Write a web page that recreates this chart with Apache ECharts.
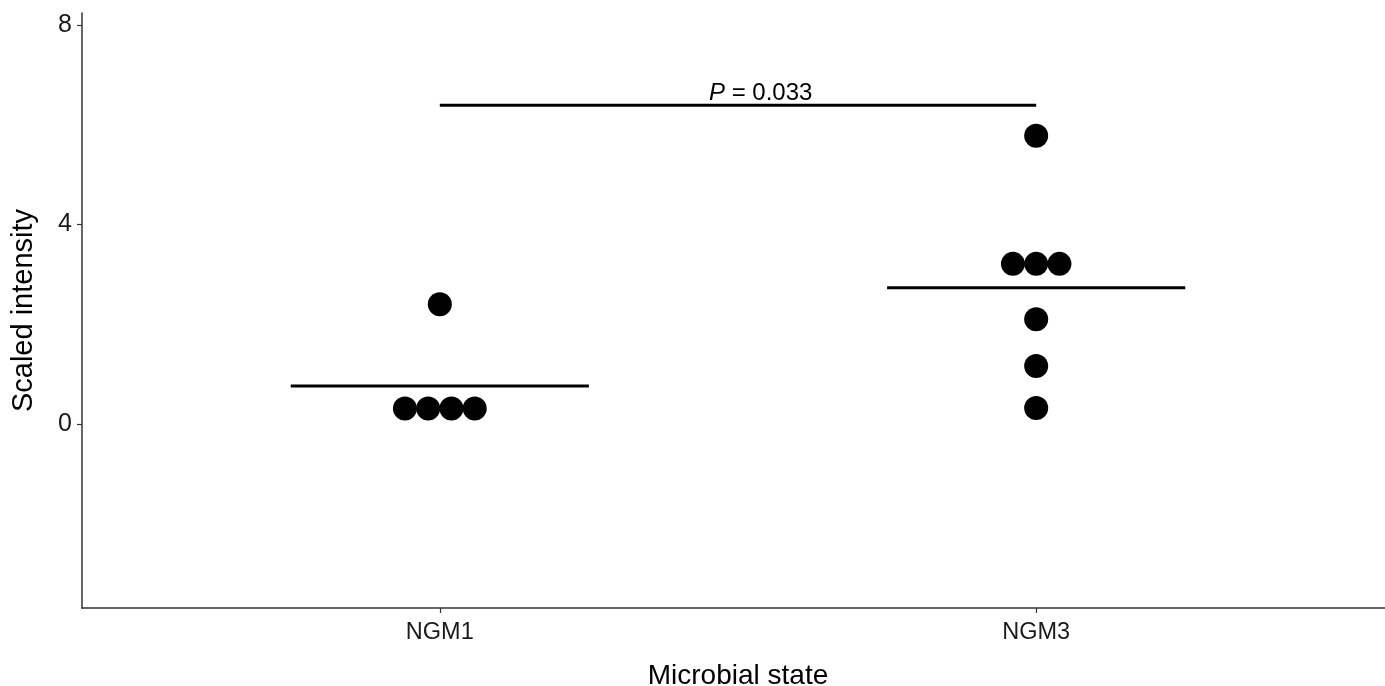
<!DOCTYPE html>
<html>
<head>
<meta charset="utf-8">
<script src="https://cdn.jsdelivr.net/npm/echarts@6/dist/echarts.min.js"></script>
<style>
html,body{margin:0;padding:0;background:#fff;}
#chart{width:1385px;height:686px;}
</style>
</head>
<body>
<div id="chart"></div>
<script>
// ---- data ----
const categories = ['NGM1', 'NGM3'];
const ngm1Values = [0.31, 0.31, 0.31, 0.31, 2.40];
const ngm3Values = [0.32, 1.16, 2.10, 3.21, 3.21, 3.21, 5.78];
const groupMeans = [0.76, 2.73];
const yTicks = [0, 4, 8];
const pLabel = '0.033';
const pBracketY = 6.39;

// ---- layout helpers ----
const dotStep = 0.039;     // horizontal stacking step (data units) for tied values
const meanHalfWidth = 0.25;
const groups = [ngm1Values, ngm3Values];
const FONT = 'Liberation Sans, Arial, sans-serif';

function stackDots(values, center) {
  const counts = {};
  values.forEach(v => { counts[v] = (counts[v] || 0) + 1; });
  const seen = {};
  return values.map(v => {
    const n = counts[v];
    const k = seen[v] || 0;
    seen[v] = k + 1;
    return [center + (k - (n - 1) / 2) * dotStep, v];
  });
}

const series = [];
groups.forEach((vals, i) => {
  const c = i + 1;
  series.push({
    type: 'scatter',
    data: stackDots(vals, c),
    symbol: 'circle',
    symbolSize: 24,
    itemStyle: { color: '#000', opacity: 1 },
    silent: true,
    z: 3
  });
  series.push({
    type: 'line',
    data: [[c - meanHalfWidth, groupMeans[i]], [c + meanHalfWidth, groupMeans[i]]],
    symbol: 'none',
    lineStyle: { color: '#000', width: 3, opacity: 1 },
    silent: true,
    z: 2
  });
});

// significance bracket
series.push({
  type: 'line',
  data: [[1, pBracketY], [2, pBracketY]],
  symbol: 'none',
  lineStyle: { color: '#000', width: 2.8, opacity: 1 },
  silent: true,
  z: 2
});
series.push({
  type: 'scatter',
  data: [[1.538, pBracketY]],
  symbolSize: 0,
  silent: true,
  itemStyle: { opacity: 1 },
  label: {
    show: true,
    position: 'top',
    distance: 0,
    formatter: '{i|P}{n| = ' + pLabel + '}',
    rich: {
      i: { fontStyle: 'italic', fontSize: 24, fontFamily: FONT, color: '#000' },
      n: { fontSize: 24, fontFamily: FONT, color: '#000' }
    }
  }
});

const chart = echarts.init(document.getElementById('chart'), null, { renderer: 'canvas' });
chart.setOption({
  animation: false,
  backgroundColor: '#fff',
  grid: { left: 82, right: -9, top: 13, bottom: 78, containLabel: false, outerBoundsMode: 'none' },
  xAxis: {
    type: 'value',
    min: 0.4,
    max: 2.6,
    name: 'Microbial state',
    nameLocation: 'middle',
    nameGap: 54,
    nameTextStyle: { fontSize: 28, color: '#000', fontFamily: FONT },
    splitLine: { show: false },
    axisLine: { show: true, onZero: false, lineStyle: { color: '#333', width: 1.5 } },
    axisTick: { show: true, length: 5, lineStyle: { color: '#333', width: 1.2 }, customValues: [1, 2] },
    axisLabel: {
      customValues: [1, 2],
      formatter: v => categories[Math.round(v) - 1] || '',
      fontSize: 23.5,
      color: '#1a1a1a',
      margin: 13,
      fontFamily: FONT
    }
  },
  yAxis: {
    type: 'value',
    min: -3.69,
    max: 8.24,
    name: 'Scaled intensity',
    nameLocation: 'middle',
    nameGap: 44,
    nameRotate: 90,
    nameTextStyle: { fontSize: 29, color: '#000', fontFamily: FONT },
    splitLine: { show: false },
    axisLine: { show: true, onZero: false, lineStyle: { color: '#333', width: 1.5 } },
    axisTick: { show: true, length: 5, lineStyle: { color: '#333', width: 1.2 }, customValues: yTicks },
    axisLabel: {
      customValues: yTicks,
      fontSize: 25,
      color: '#1a1a1a',
      margin: 10,
      fontFamily: FONT
    }
  },
  series: series
});
</script>
</body>
</html>
